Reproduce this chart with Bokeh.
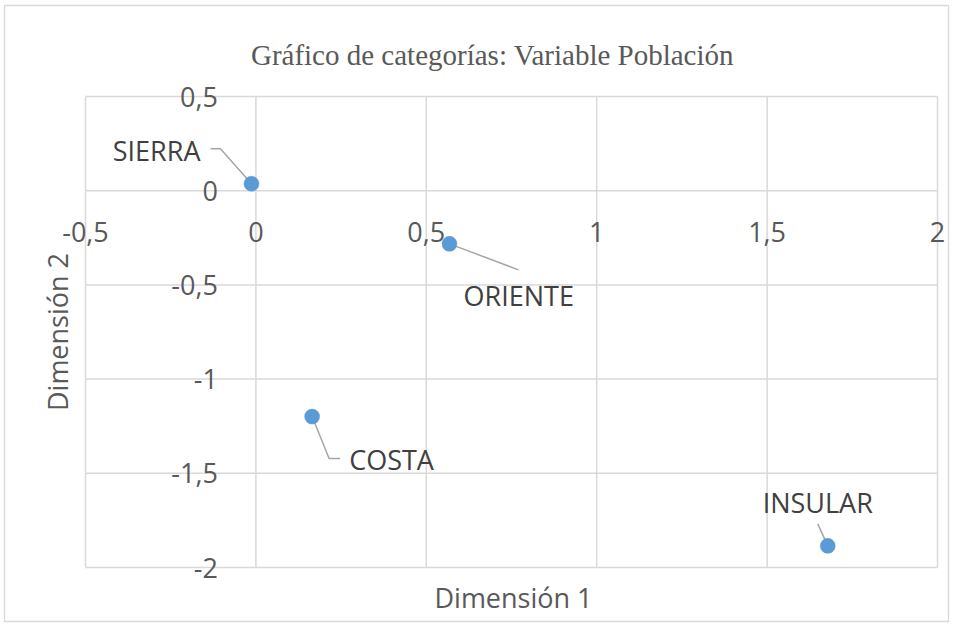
import math
from bokeh.plotting import figure
from bokeh.models import FixedTicker, Range1d
from bokeh.core.properties import value
from bokeh.embed import file_html
from bokeh.resources import INLINE

# ---- data ----
categories = ["SIERRA", "ORIENTE", "COSTA", "INSULAR"]
dim1 = [-0.013, 0.568, 0.165, 1.678]
dim2 = [0.037, -0.282, -1.199, -1.885]
x_ticks = [-0.5, 0, 0.5, 1, 1.5, 2]
x_tick_labels = ["-0,5", "0", "0,5", "1", "1,5", "2"]
y_ticks = [-2, -1.5, -1, -0.5, 0, 0.5]
y_tick_labels = ["-2", "-1,5", "-1", "-0,5", "0", "0,5"]
title_text = "Gráfico de categorías: Variable Población"
x_title = "Dimensión 1"
y_title = "Dimensión 2"

# ---- layout constants (pixels) ----
W, H = 950, 623
PL, PR, PT, PB = 85, 937, 96, 567          # plot area inside the figure
XMIN, XMAX, YMIN, YMAX = -0.5, 2.0, -2.0, 0.5
dxp = (XMAX - XMIN) / (PR - PL)
dyp = (YMAX - YMIN) / (PB - PT)


def sx(px):
    return XMIN + (px - PL) * dxp


def sy(py):
    return YMAX - (py - PT) * dyp


# label placement in screen-pixel offsets from the point (dx right, dy down)
label_off = {"SIERRA": (-51, -33, "right"), "ORIENTE": (14, 52, "left"),
             "COSTA": (37, 43, "left"), "INSULAR": (-10, -43, "center")}
leader_off = {"SIERRA": [(-41, -35), (-31, -35), (0, 0)],
              "ORIENTE": [(0, 0), (69, 26)],
              "COSTA": [(0, 0), (17, 42), (28, 42)],
              "INSULAR": [(-10, -22), (0, 0)]}

p = figure(width=W, height=H, x_range=Range1d(sx(0), sx(W)), y_range=Range1d(sy(H), sy(0)),
           output_backend="svg", toolbar_location=None,
           min_border_left=0, min_border_right=0, min_border_top=0, min_border_bottom=0)
p.background_fill_color = "white"
p.border_fill_color = "white"
p.outline_line_color = None
p.xgrid.visible = False
p.ygrid.visible = False

grid_color = "#d9d9d9"
text_color = "#595959"
font = "Open Sans"

# outer chart border
p.quad(left=[sx(4)], right=[sx(948)], top=[sy(5)], bottom=[sy(621)],
       fill_color=None, line_color="#d9d9d9", line_width=1.3)

# gridlines (including the zero lines that act as axes)
p.segment(x0=x_ticks, x1=x_ticks, y0=[YMIN] * len(x_ticks), y1=[YMAX] * len(x_ticks),
          line_color=grid_color, line_width=1.5)
p.segment(x0=[XMIN] * len(y_ticks), x1=[XMAX] * len(y_ticks), y0=y_ticks, y1=y_ticks,
          line_color=grid_color, line_width=1.5)

p.xaxis.fixed_location = 0
p.xaxis.ticker = FixedTicker(ticks=x_ticks)
p.xaxis.major_label_overrides = dict(zip(x_ticks, x_tick_labels))
p.xaxis.major_label_standoff = 25
p.yaxis.fixed_location = 0
p.yaxis.ticker = FixedTicker(ticks=y_ticks)
p.yaxis.major_label_overrides = dict(zip(y_ticks, y_tick_labels))
p.yaxis.major_label_standoff = 32
for ax in (p.xaxis, p.yaxis):
    ax.axis_line_color = None
    ax.major_tick_line_color = None
    ax.minor_tick_line_color = None
    ax.major_label_text_font = font
    ax.major_label_text_font_size = "27px"
    ax.major_label_text_color = text_color
p.yaxis.major_label_orientation = "horizontal"

# titles
p.text(x=[sx(492)], y=[sy(54)], text=[title_text], text_align="center", text_baseline="alphabetic",
       text_font=value("Liberation Serif"), text_font_size="29px", text_color=text_color)
p.text(x=[sx(513)], y=[sy(597)], text=[x_title], text_align="center", text_baseline="alphabetic",
       text_font=value(font), text_font_size="27px", text_color=text_color)
p.text(x=[sx(57)], y=[sy((PT + PB) / 2)], text=[y_title], text_align="center",
       text_baseline="alphabetic", angle=math.pi / 2,
       text_font=value(font), text_font_size="27px", text_color=text_color)

# leader lines
lxs, lys = [], []
for c, x, y in zip(categories, dim1, dim2):
    pts = leader_off[c]
    lxs.append([x + dx * dxp for dx, dy in pts])
    lys.append([y - dy * dyp for dx, dy in pts])
p.multi_line(lxs, lys, line_color="#a6a6a6", line_width=1.5)

# points
p.scatter(dim1, dim2, size=15, fill_color="#5b9bd5", line_color="#5b9bd5", line_width=0.5)

# labels
for c, x, y in zip(categories, dim1, dim2):
    dx, dy, al = label_off[c]
    p.text(x=[x + dx * dxp], y=[y - dy * dyp], text=[c], text_align=al, text_baseline="middle",
           text_font=value(font), text_font_size="27px", text_color="#404040")

open("out.html", "w").write(file_html(p, INLINE))
